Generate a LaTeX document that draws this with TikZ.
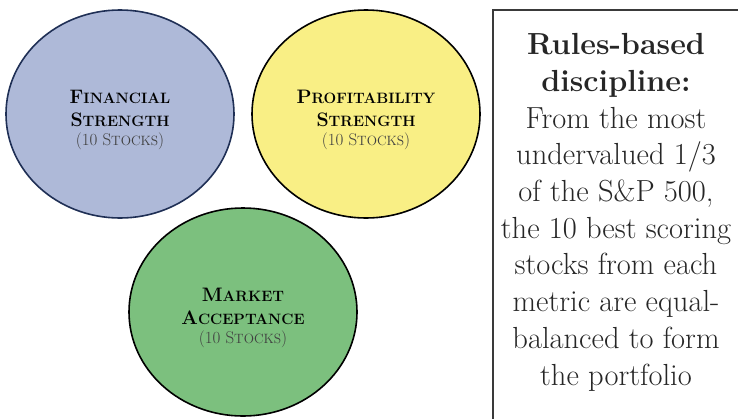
\documentclass[tikz,border=0pt]{standalone}
\usepackage{tikz}
\usetikzlibrary{shapes.geometric,calc}

\definecolor{finblue}{HTML}{AEB9D8}
\definecolor{finline}{HTML}{1F2F55}
\definecolor{profyellow}{HTML}{F9EF85}
\definecolor{mktgreen}{HTML}{7CC07E}
\definecolor{boxline}{HTML}{3A3A3A}

% small caps by hand: first letter large, rest smaller
\newcommand{\capword}[2]{{\fontsize{19.5}{23}\selectfont #1}{\fontsize{15}{23}\selectfont #2}}
\newcommand{\capnote}[2]{{\fontsize{17}{19}\selectfont #1}{\fontsize{13.5}{19}\selectfont #2}}

\tikzset{
  metric/.style={ellipse, draw, line width=1.6pt, minimum width=228pt, minimum height=208pt,
    inner sep=0pt},
  metrictext/.style={align=center, font=\fontsize{15}{23}\selectfont\bfseries, yshift=-6pt},
}

\begin{document}
\begin{tikzpicture}
  [
    x=1pt, y=-1pt
  ]
  \useasboundingbox (0, 0) rectangle (738, 418);
  \node [metric, fill=finblue, draw=finline] at (120, 114) (fin) {};
  \node [metric, fill=profyellow, draw=black] at (366, 114) (prof) {};
  \node [metric, fill=mktgreen, draw=black] at (243, 312) (mkt) {};
  \node [metrictext] at (fin) (fin text)
    {\capword{F}{INANCIAL}\\ \capword{S}{TRENGTH}\\[-4pt]
     {\mdseries\color{black!75}\capnote{(10 S}{TOCKS}\capnote{)}{}}};
  \node [metrictext] at (prof) (prof text)
    {\capword{P}{ROFITABILITY}\\ \capword{S}{TRENGTH}\\[-4pt]
     {\mdseries\color{black!75}\capnote{(10 S}{TOCKS}\capnote{)}{}}};
  \node [metrictext] at (mkt) (mkt text)
    {\capword{M}{ARKET}\\ \capword{A}{CCEPTANCE}\\[-4pt]
     {\mdseries\color{black!75}\capnote{(10 S}{TOCKS}\capnote{)}{}}};

  \draw [boxline, line width=1.5pt] (493, 430) -- (493, 10) -- (750, 10);
  \node [anchor=north, align=center, font=\fontsize{30.5}{36.7}\selectfont, text=black!85]
    at (616, 30) (rules)
    {\textbf{Rules-based}\\ \textbf{discipline:}\\ From the most\\ undervalued 1/3\\
     of the S\&P 500,\\ the 10 best scoring\\ stocks from each\\ metric are equal-\\
     balanced to form\\ the portfolio};
\end{tikzpicture}
\end{document}
